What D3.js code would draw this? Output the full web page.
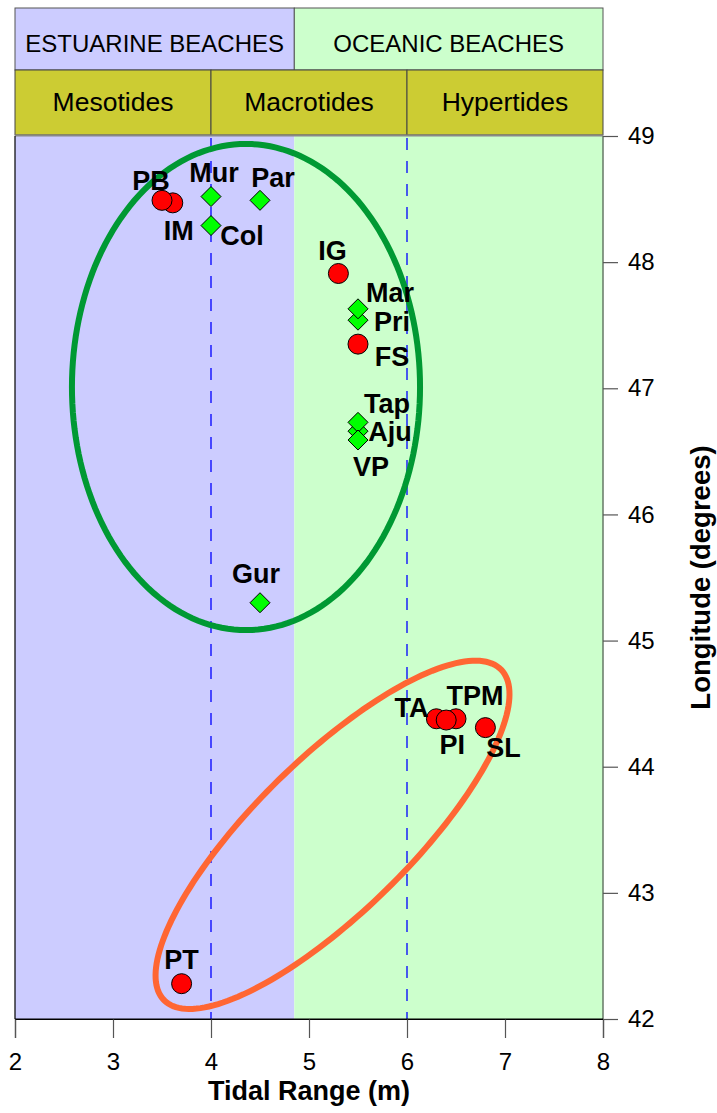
<!DOCTYPE html>
<html>
<head>
<meta charset="utf-8">
<script src="https://cdn.jsdelivr.net/npm/d3@7"></script>
<style>
  html, body { margin: 0; padding: 0; background: #ffffff; }
  svg { display: block; font-family: "Liberation Sans", Arial, sans-serif; }
</style>
</head>
<body>
<svg id="chart" width="717" height="1113"></svg>
<script>
// Beach classification bands (tidal range, m)
const beachLabels = ["ESTUARINE BEACHES", "OCEANIC BEACHES"];
const beachEdges = [2, 4.85, 8];
const tideLabels = ["Mesotides", "Macrotides", "Hypertides"];
const tideEdges = [2, 4, 6, 8];
const tideLimits = [4, 6];

// Sites: red circles
const circleNames = ["IM", "PB", "IG", "FS", "TA", "TPM", "PI", "SL", "PT"];
const circleRange = [3.61, 3.50, 5.30, 5.50, 6.30, 6.50, 6.40, 6.80, 3.70];
const circleLon   = [48.47, 48.49, 47.91, 47.35, 44.38, 44.38, 44.37, 44.31, 42.28];

// Sites: green diamonds
const diamondNames = ["Mur", "Par", "Col", "Pri", "Mar", "Aju", "Tap", "VP", "Gur"];
const diamondRange = [4.0, 4.5, 4.0, 5.5, 5.5, 5.5, 5.5, 5.5, 4.5];
const diamondLon   = [48.52, 48.49, 48.29, 47.54, 47.63, 46.66, 46.73, 46.59, 45.30];

// Axis ticks
const xTicks = [2, 3, 4, 5, 6, 7, 8];
const yTicks = [42, 43, 44, 45, 46, 47, 48, 49];

// Group outlines (centre and semi-axis vectors, data units)
const groupNorth = { cx: 4.357, cy: 47.01, ax: [1.776, 0], bx: [0, 1.927] };
const groupSouth = { cx: 5.24, cy: 43.46, ax: [1.72, 1.31], bx: [0.55, -0.435] };

// Label placement (pixel offsets from each marker)
const labelOffset = {
  PB: [-11, -19], IM: [6, 28], Mur: [3, -24], Par: [13, -22], Col: [31, 10],
  IG: [-6, -22], Mar: [32, -16], Pri: [34, 2], FS: [34, 13], Tap: [29, -18],
  Aju: [32, 1], VP: [13, 27], Gur: [-4, -29], TA: [-25, -11], TPM: [19, -23],
  PI: [6, 25], SL: [18, 20], PT: [0, -24]
};

const svg = d3.select("#chart");
const plotLeft = 15, plotRight = 603, plotTop = 136, plotBottom = 1019;
const x = d3.scaleLinear().domain([2, 8]).range([plotLeft, plotRight]);
const y = d3.scaleLinear().domain([42, 49]).range([plotBottom, plotTop]);

const blue = "#ccccff", green = "#ccffcc", olive = "#cccc33";

// Plot background
svg.append("rect").attr("x", x(beachEdges[0])).attr("y", plotTop)
  .attr("width", x(beachEdges[1]) - x(beachEdges[0])).attr("height", plotBottom - plotTop).attr("fill", blue);
svg.append("rect").attr("x", x(beachEdges[1])).attr("y", plotTop)
  .attr("width", x(beachEdges[2]) - x(beachEdges[1])).attr("height", plotBottom - plotTop).attr("fill", green);

// Header row 1: beach type
const row1 = svg.append("g");
beachLabels.forEach((lab, i) => {
  const x0 = x(beachEdges[i]), x1 = x(beachEdges[i + 1]);
  row1.append("rect").attr("x", x0).attr("y", 8).attr("width", x1 - x0).attr("height", 62)
    .attr("fill", i === 0 ? blue : green).attr("stroke", "#555").attr("stroke-width", 1);
  row1.append("text").attr("x", (x0 + x1) / 2).attr("y", 45.5)
    .attr("text-anchor", "middle").attr("dominant-baseline", "middle")
    .attr("font-size", 24).attr("fill", "#000").text(lab);
});

// Header row 2: tidal regime
const row2 = svg.append("g");
tideLabels.forEach((lab, i) => {
  const x0 = x(tideEdges[i]), x1 = x(tideEdges[i + 1]);
  row2.append("rect").attr("x", x0).attr("y", 70).attr("width", x1 - x0).attr("height", 65)
    .attr("fill", olive).attr("stroke", "#444").attr("stroke-width", 1);
  row2.append("text").attr("x", (x0 + x1) / 2).attr("y", 103.5)
    .attr("text-anchor", "middle").attr("dominant-baseline", "middle")
    .attr("font-size", 26.5).attr("fill", "#000").text(lab);
});
svg.append("line").attr("x1", plotLeft).attr("x2", plotRight).attr("y1", plotTop - 0.5).attr("y2", plotTop - 0.5)
  .attr("stroke", "#888").attr("stroke-width", 2);

// Tidal regime limits
svg.selectAll("line.limit").data(tideLimits).join("line").attr("class", "limit")
  .attr("x1", d => x(d)).attr("x2", d => x(d)).attr("y1", plotTop + 2).attr("y2", plotBottom)
  .attr("stroke", "#0000ff").attr("stroke-width", 1.3).attr("stroke-dasharray", "12,11");

// Group outlines
function ellipsePath(e) {
  const pts = d3.range(0, 360, 2).map(t => {
    const a = t * Math.PI / 180;
    return [e.cx + Math.cos(a) * e.ax[0] + Math.sin(a) * e.bx[0],
            e.cy + Math.cos(a) * e.ax[1] + Math.sin(a) * e.bx[1]];
  });
  return d3.line().x(d => x(d[0])).y(d => y(d[1])).curve(d3.curveLinearClosed)(pts);
}
svg.append("path").attr("d", ellipsePath(groupNorth)).attr("fill", "none")
  .attr("stroke", "#009933").attr("stroke-width", 6);
svg.append("path").attr("d", ellipsePath(groupSouth)).attr("fill", "none")
  .attr("stroke", "#ff6633").attr("stroke-width", 6);

// Plot frame and axes
svg.append("line").attr("x1", plotLeft).attr("x2", plotLeft).attr("y1", plotTop).attr("y2", plotBottom)
  .attr("stroke", "#000").attr("stroke-width", 1.2);
svg.append("line").attr("x1", plotRight).attr("x2", plotRight).attr("y1", plotTop).attr("y2", plotBottom)
  .attr("stroke", "#667766").attr("stroke-width", 1.5);

const xAxis = svg.append("g").attr("transform", `translate(0,${plotBottom})`)
  .call(d3.axisBottom(x).tickValues(xTicks).tickFormat(d3.format("d")).tickSize(19).tickPadding(15));
const yAxis = svg.append("g").attr("transform", `translate(${plotRight},0)`)
  .call(d3.axisRight(y).tickValues(yTicks).tickFormat(d3.format("d")).tickSize(15).tickPadding(10));
[xAxis, yAxis].forEach(g => {
  g.select(".domain").attr("stroke", "#000").attr("stroke-width", 1.2);
  g.selectAll(".tick line").attr("stroke", "#555").attr("stroke-width", 1.2);
  g.selectAll(".tick text").attr("font-size", 24).attr("fill", "#000")
    .attr("font-family", "Liberation Sans, Arial, sans-serif");
});
yAxis.select(".domain").remove();
svg.append("line").attr("x1", plotLeft).attr("x2", plotRight).attr("y1", plotBottom).attr("y2", plotBottom)
  .attr("stroke", "#000").attr("stroke-width", 1.2);

svg.append("text").attr("x", (plotLeft + plotRight) / 2).attr("y", 1100).attr("text-anchor", "middle")
  .attr("font-size", 27).attr("font-weight", "bold").text("Tidal Range (m)");
svg.append("text").attr("transform", `translate(710,${(plotTop + plotBottom) / 2}) rotate(-90)`)
  .attr("text-anchor", "middle").attr("font-size", 27.5).attr("font-weight", "bold")
  .text("Longitude (degrees)");

// Markers
const circles = circleNames.map((n, i) => ({ name: n, tr: circleRange[i], lon: circleLon[i] }));
const diamonds = diamondNames.map((n, i) => ({ name: n, tr: diamondRange[i], lon: diamondLon[i] }));

svg.selectAll("path.site").data(diamonds).join("path").attr("class", "site")
  .attr("transform", d => `translate(${x(d.tr)},${y(d.lon)})`)
  .attr("d", "M0,-10L10,0L0,10L-10,0Z")
  .attr("fill", "#00ff00").attr("stroke", "#000").attr("stroke-width", 1);

svg.selectAll("circle.site").data(circles).join("circle").attr("class", "site")
  .attr("cx", d => x(d.tr)).attr("cy", d => y(d.lon)).attr("r", 10)
  .attr("fill", "#ff0000").attr("stroke", "#000").attr("stroke-width", 1);

// Site labels
svg.selectAll("text.site").data(circles.concat(diamonds)).join("text").attr("class", "site")
  .attr("x", d => x(d.tr) + labelOffset[d.name][0])
  .attr("y", d => y(d.lon) + labelOffset[d.name][1])
  .attr("text-anchor", "middle").attr("dominant-baseline", "central")
  .attr("font-size", 27).attr("font-weight", "bold").attr("fill", "#000")
  .text(d => d.name);
</script>
</body>
</html>
